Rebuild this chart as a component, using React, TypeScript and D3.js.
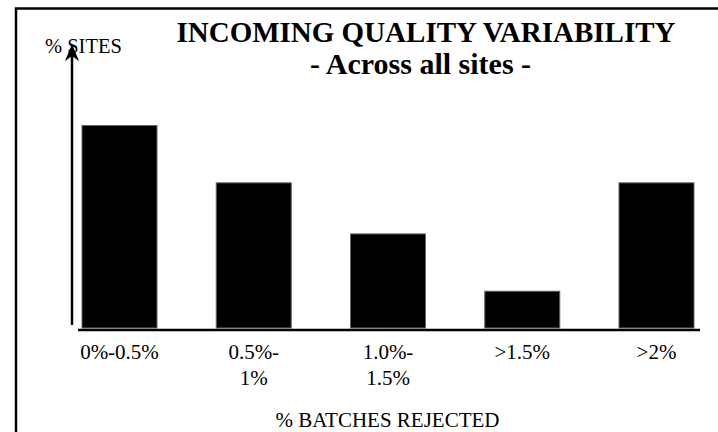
import React from "react";
import * as d3 from "d3";

const categories = ["0%-0.5%", "0.5%-1%", "1.0%-1.5%", ">1.5%", ">2%"];
const values = [32.5, 23.3, 15.1, 5.9, 23.3];
const tickLabels = [["0%-0.5%"], ["0.5%-", "1%"], ["1.0%-", "1.5%"], [">1.5%"], [">2%"]];
const title = "INCOMING QUALITY VARIABILITY";
const subtitle = "- Across all sites -";
const yLabel = "% SITES";
const xLabel = "% BATCHES REJECTED";

const W = 718;
const H = 432;
const FONT = "'Liberation Serif', 'Times New Roman', Times, serif";

export default function App() {
  const x = d3.scaleBand<string>().domain(categories).range([82, 694]).paddingInner(0.4413).paddingOuter(0);
  const y = d3.scaleLinear().domain([0, 32.5]).range([328, 125.5]);

  const arrowTip = 44;
  const axisX = 72;

  return (
    <svg width={W} height={H} style={{ position: "absolute", left: 0, top: 0, background: "#fff" }} fontFamily={FONT}>
      <rect x={0} y={0} width={W} height={H} fill="#fff" />
      {/* frame */}
      <rect x={16} y={8.5} width={W + 20} height={H + 20} fill="none" stroke="#000" strokeWidth={2.5} />

      {/* bars */}
      {categories.map((c, i) => (
        <rect
          key={c}
          x={x(c)}
          y={y(values[i])}
          width={x.bandwidth()}
          height={y(0) - y(values[i])}
          fill="#000"
          stroke="#666"
          strokeWidth={1}
        />
      ))}

      {/* x axis line */}
      <line x1={78} x2={700} y1={330} y2={330} stroke="#000" strokeWidth={2.5} />

      {/* y axis arrow */}
      <line x1={axisX} x2={axisX} y1={325} y2={arrowTip + 8} stroke="#000" strokeWidth={2.5} />
      <path
        d={`M${axisX},${arrowTip} L${axisX - 7},${arrowTip + 17} L${axisX},${arrowTip + 12} L${axisX + 7},${arrowTip + 17} Z`}
        fill="#000"
      />

      {/* tick labels */}
      {categories.map((c, i) => (
        <text key={"t" + c} x={(x(c) as number) + x.bandwidth() / 2} y={359} textAnchor="middle" fontSize={21} fill="#000">
          {tickLabels[i].map((ln, j) => (
            <tspan key={j} x={(x(c) as number) + x.bandwidth() / 2} dy={j === 0 ? 0 : 26}>
              {ln}
            </tspan>
          ))}
        </text>
      ))}

      {/* titles */}
      <text x={426} y={42} textAnchor="middle" fontSize={29} fontWeight="bold" fill="#000">
        {title}
      </text>
      <text x={420.5} y={74} textAnchor="middle" fontSize={30} fontWeight="bold" fill="#000">
        {subtitle}
      </text>

      {/* axis labels */}
      <text x={45} y={53} fontSize={20.5} fill="#000">
        {yLabel}
      </text>
      <text x={387.5} y={427} textAnchor="middle" fontSize={21} fill="#000">
        {xLabel}
      </text>
    </svg>
  );
}
